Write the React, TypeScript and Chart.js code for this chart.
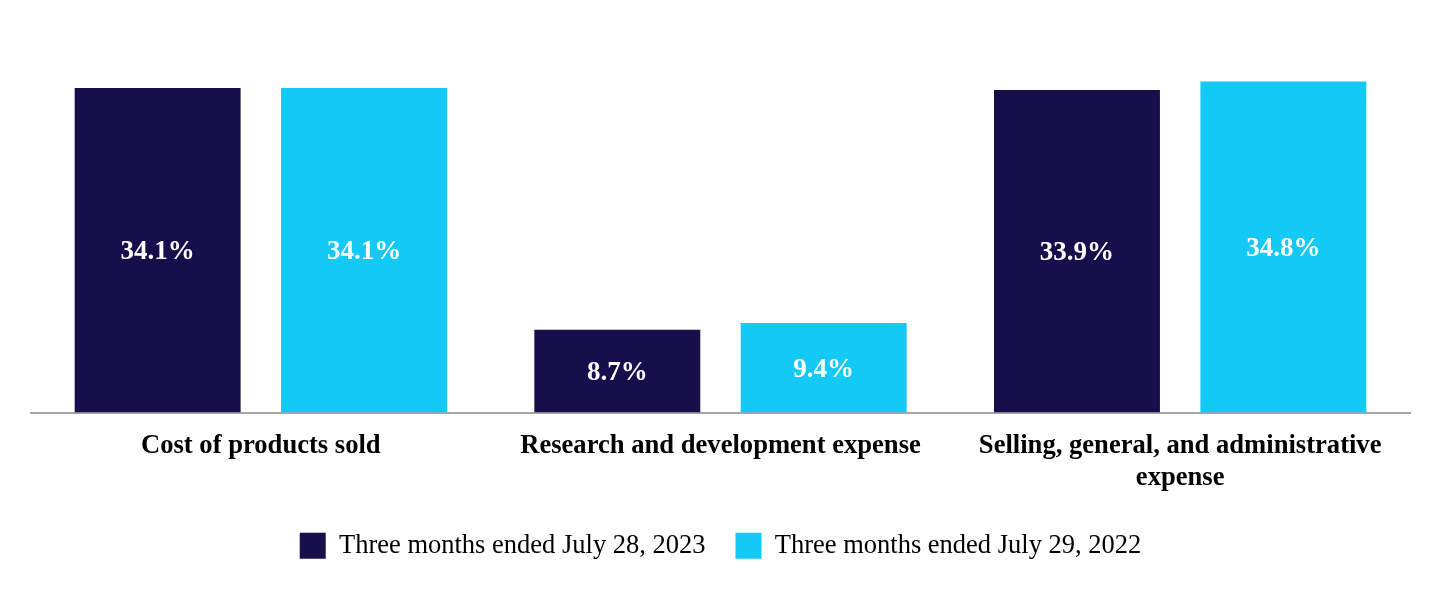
import React, { useEffect, useRef } from "react";
import { Chart, registerables } from "chart.js";

Chart.register(...registerables);

const categories: (string | string[])[] = [
  "Cost of products sold",
  "Research and development expense",
  ["Selling, general, and administrative", "expense"],
];
const series2023: number[] = [34.1, 8.7, 33.9];
const series2022: number[] = [34.1, 9.4, 34.8];
const seriesLabels: string[] = [
  "Three months ended July 28, 2023",
  "Three months ended July 29, 2022",
];
const colors: string[] = ["#170F4B", "#12CAF5"];

const FONT = "'Liberation Serif', 'Times New Roman', serif";

const valueLabels = {
  id: "valueLabels",
  afterDatasetsDraw(chart: any) {
    const ctx = chart.ctx;
    ctx.save();
    ctx.font = `bold 27px ${FONT}`;
    ctx.fillStyle = "#ffffff";
    ctx.textAlign = "center";
    ctx.textBaseline = "middle";
    chart.data.datasets.forEach((ds: any, di: number) => {
      const meta = chart.getDatasetMeta(di);
      meta.data.forEach((bar: any, i: number) => {
        const v = ds.data[i];
        const y = (bar.y + bar.base) / 2 + 2;
        ctx.fillText(`${v.toFixed(1)}%`, bar.x, y);
      });
    });
    ctx.restore();
  },
};

export default function App() {
  const ref = useRef<HTMLCanvasElement | null>(null);
  useEffect(() => {
    if (!ref.current) return;
    const chart = new Chart(ref.current, {
      type: "bar",
      data: {
        labels: categories,
        datasets: [
          { label: seriesLabels[0], data: series2023, backgroundColor: colors[0] },
          { label: seriesLabels[1], data: series2022, backgroundColor: colors[1] },
        ],
      },
      options: {
        animation: false,
        responsive: true,
        maintainAspectRatio: false,
        layout: { padding: { top: 32, left: 31, right: 30, bottom: 31 } },
        datasets: {
          bar: { categoryPercentage: 0.898, barPercentage: 0.804 },
        },
        scales: {
          x: {
            grid: { display: false, drawTicks: false },
            border: { display: true, color: "#A6A6A6", width: 2 },
            ticks: {
              color: "#000000",
              font: { family: FONT, size: 26.6, weight: "bold", lineHeight: 1.2 },
              padding: 18,
              maxRotation: 0,
              minRotation: 0,
              autoSkip: false,
            },
            afterFit(scale: any) {
              scale.height = 90;
            },
          },
          y: { display: false, min: 0, max: 40 },
        },
        plugins: {
          legend: {
            position: "bottom",
            labels: {
              boxWidth: 26,
              boxHeight: 26,
              padding: 30,
              color: "#000000",
              font: { family: FONT, size: 26.5 },
            },
          },
          tooltip: { enabled: false },
        },
      } as any,
      plugins: [valueLabels],
    });
    return () => chart.destroy();
  }, []);
  return (
    <div style={{ position: "absolute", left: 0, top: 0, width: 1440, height: 600, background: "#fff" }}>
      <canvas ref={ref} />
    </div>
  );
}
